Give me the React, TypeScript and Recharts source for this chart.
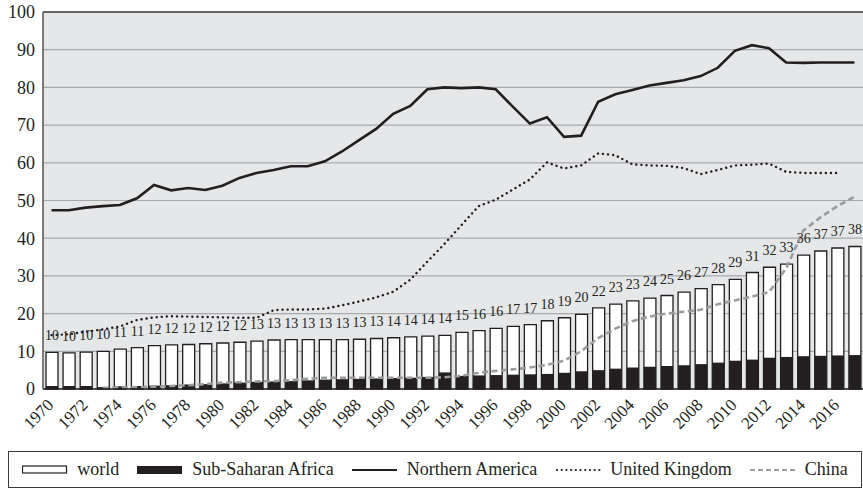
import React from 'react';
import {
  ComposedChart, Bar, Line, XAxis, YAxis, CartesianGrid, Legend, LabelList, ReferenceLine,
} from 'recharts';

const years = [
  1970, 1971, 1972, 1973, 1974, 1975, 1976, 1977, 1978, 1979,
  1980, 1981, 1982, 1983, 1984, 1985, 1986, 1987, 1988, 1989,
  1990, 1991, 1992, 1993, 1994, 1995, 1996, 1997, 1998, 1999,
  2000, 2001, 2002, 2003, 2004, 2005, 2006, 2007, 2008, 2009,
  2010, 2011, 2012, 2013, 2014, 2015, 2016, 2017,
];

const world = [
  9.7, 9.6, 9.8, 10.0, 10.6, 11.0, 11.5, 11.7, 11.8, 12.0,
  12.2, 12.4, 12.7, 13.0, 13.1, 13.1, 13.1, 13.1, 13.2, 13.4,
  13.6, 13.8, 14.0, 14.2, 15.0, 15.5, 16.1, 16.6, 17.1, 18.1,
  18.9, 19.8, 21.5, 22.5, 23.4, 24.1, 24.8, 25.7, 26.6, 27.7,
  29.1, 30.9, 32.3, 33.1, 35.5, 36.6, 37.4, 37.8,
];

const subSaharan = [
  0.8, 0.8, 0.8, 0.5, 0.7, 0.8, 0.9, 1.0, 1.2, 1.3,
  1.5, 1.7, 1.9, 2.0, 2.1, 2.3, 2.5, 2.6, 2.7, 2.8,
  2.9, 3.0, 3.2, 4.4, 3.5, 3.6, 3.7, 3.8, 3.9, 4.0,
  4.3, 4.7, 5.0, 5.4, 5.7, 5.9, 6.1, 6.3, 6.6, 7.0,
  7.5, 7.8, 8.3, 8.5, 8.7, 8.8, 8.9, 9.0,
];

const northAmerica = [
  47.4, 47.4, 48.1, 48.5, 48.8, 50.6, 54.1, 52.7, 53.3, 52.8,
  53.9, 56.0, 57.3, 58.1, 59.1, 59.1, 60.4, 63.0, 66.0, 69.0,
  73.0, 75.1, 79.5, 80.0, 79.8, 80.0, 79.5, 74.9, 70.4, 72.1,
  66.9, 67.2, 76.2, 78.2, 79.3, 80.5, 81.2, 81.9, 83.0, 85.2,
  89.7, 91.2, 90.4, 86.6, 86.5, 86.6, 86.6, 86.6,
];

const unitedKingdom: (number | null)[] = [
  14.3, 14.5, 15.2, 15.8, 16.6, 18.3, 19.0, 19.3, 19.2, 19.1,
  19.0, 18.9, 18.9, 20.9, 21.1, 21.1, 21.3, 22.2, 23.2, 24.3,
  25.8, 29.0, 33.8, 38.5, 43.5, 48.5, 50.2, 52.9, 55.6, 60.1,
  58.5, 59.3, 62.5, 62.0, 59.6, 59.3, 59.2, 58.6, 57.0, 58.1,
  59.3, 59.5, 59.8, 57.6, 57.3, 57.3, 57.3, null,
];

const china: (number | null)[] = [
  null, null, null, 0.3, 0.4, 0.5, 0.6, 0.8, 1.0, 1.3,
  1.7, 1.8, 2.0, 2.1, 2.3, 2.7, 3.0, 3.0, 3.0, 3.0,
  3.0, 3.0, 3.0, 3.1, 3.5, 4.3, 4.8, 5.2, 5.7, 6.4,
  7.5, 10.0, 13.5, 16.0, 18.0, 19.2, 20.0, 20.5, 21.0, 22.5,
  23.5, 24.5, 25.7, 32.0, 42.0, 45.5, 48.5, 51.0,
];

const yTicks = [0, 10, 20, 30, 40, 50, 60, 70, 80, 90, 100];

const INK = '#231f20';
const FONT = 'Liberation Serif, DejaVu Serif, serif';

const data = years.map((y, i) => ({
  year: String(y),
  world: world[i],
  ssa: subSaharan[i],
  na: northAmerica[i],
  uk: unitedKingdom[i],
  china: china[i],
}));

interface TickProps { x?: number; y?: number; payload?: { value: string } }

// rotated year labels, anchored at their right end just under the bar centre
function YearTick({ x = 0, y = 0, payload }: TickProps) {
  const tx = x + 3;
  const ty = y + 17;
  return (
    <g transform={`translate(${tx},${ty})`}>
      <text x={0} y={0} transform="rotate(-45)" textAnchor="end"
        fontSize={17} fill={INK} fontFamily={FONT}>
        {payload?.value}
      </text>
    </g>
  );
}

function Swatch({ kind }: { kind: string }) {
  return (
    <svg width={46} height={10} style={{ display: 'block' }}>
      {kind === 'world' && <rect x={0.5} y={1} width={44} height={7} fill="#fff" stroke={INK} strokeWidth={1.2} />}
      {kind === 'ssa' && <rect x={0} y={1} width={45} height={8} fill={INK} />}
      {kind === 'na' && <line x1={0} y1={5} x2={45} y2={5} stroke={INK} strokeWidth={2.2} />}
      {kind === 'uk' && <line x1={2} y1={5} x2={46} y2={5} stroke={INK} strokeWidth={2.2} strokeDasharray="0.1 4.6" strokeLinecap="round" />}
      {kind === 'china' && <line x1={0} y1={5} x2={46} y2={5} stroke="#9b9c9f" strokeWidth={2.2} strokeDasharray="5 3" />}
    </svg>
  );
}

const legendItems = [
  { kind: 'world', label: 'world' },
  { kind: 'ssa', label: 'Sub-Saharan Africa' },
  { kind: 'na', label: 'Northern America' },
  { kind: 'uk', label: 'United Kingdom' },
  { kind: 'china', label: 'China' },
];

function ChartLegend() {
  return (
    <div style={{
      boxSizing: 'border-box', width: 854, height: 37, border: '1px solid #3a3a3a',
      display: 'flex', alignItems: 'center', justifyContent: 'center', gap: 18,
      fontFamily: FONT, fontSize: 18, color: INK,
    }}>
      {legendItems.map(it => (
        <div key={it.kind} style={{ display: 'flex', alignItems: 'center', gap: 9 }}>
          <Swatch kind={it.kind} />
          <span>{it.label}</span>
        </div>
      ))}
    </div>
  );
}

export default function App() {
  return (
    <div style={{ position: 'absolute', left: 0, top: 0, width: 863, height: 490, background: '#fff', fontFamily: FONT }}>
      <ComposedChart width={863} height={490} data={data}
        margin={{ top: 12, right: 0, left: 0, bottom: 41 }}>
        <CartesianGrid xAxisId="a" vertical={false} stroke="#a7a9ac" strokeWidth={1.2} fill="#e6e7e8" />
        <XAxis xAxisId="a" dataKey="year" interval={1}
          tick={(p: TickProps) => <YearTick {...p} />} tickLine={false}
          tickSize={0} tickMargin={0} height={60} axisLine={{ stroke: INK, strokeWidth: 1.5 }} />
        <XAxis xAxisId="b" dataKey="year" hide />
        <YAxis domain={[0, 100]} ticks={yTicks} width={43} tickLine={false} tickSize={0} tickMargin={8}
          axisLine={{ stroke: '#555', strokeWidth: 1.5 }}
          tick={{ fontSize: 18, fill: INK, fontFamily: FONT }} />
        <ReferenceLine xAxisId="a" y={100} stroke="#444" strokeWidth={1.5} />
        <Bar xAxisId="a" dataKey="world" fill="#fff" stroke={INK} strokeWidth={1.3} barSize={12} isAnimationActive={false}>
          <LabelList dataKey="world" position="top" offset={12}
            formatter={(v: number) => Math.round(v)}
            style={{ fontSize: 14, fill: INK, fontFamily: FONT }} />
        </Bar>
        <Bar xAxisId="b" dataKey="ssa" fill={INK} barSize={12} isAnimationActive={false} />
        <Line xAxisId="a" dataKey="na" type="linear" stroke={INK} strokeWidth={2.6} dot={false} isAnimationActive={false} />
        <Line xAxisId="a" dataKey="uk" type="linear" stroke={INK} strokeWidth={2.4} strokeDasharray="0.1 5"
          strokeLinecap="round" dot={false} isAnimationActive={false} />
        <Line xAxisId="a" dataKey="china" type="linear" stroke="#9b9c9f" strokeWidth={2.6} strokeDasharray="6 3.5"
          dot={false} isAnimationActive={false} />
        <Legend verticalAlign="middle" align="center" content={() => <ChartLegend />}
          wrapperStyle={{ left: 8, top: 451, width: 854, height: 37, bottom: 'auto' }} />
      </ComposedChart>
    </div>
  );
}
